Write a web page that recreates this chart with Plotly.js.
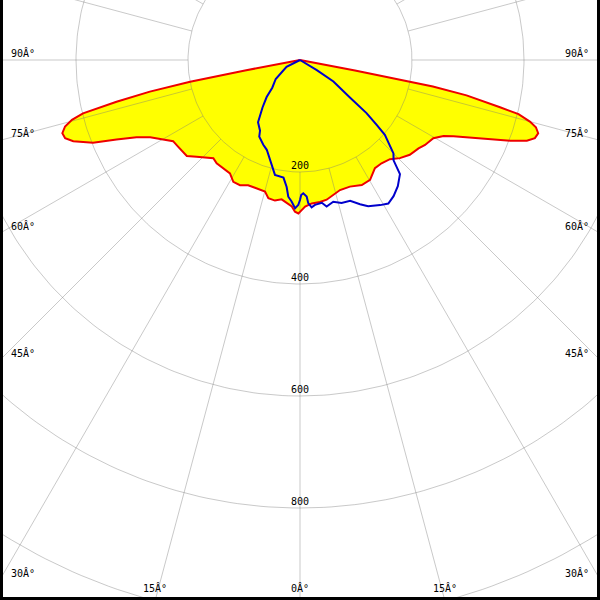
<!DOCTYPE html>
<html>
<head>
<meta charset="utf-8">
<script src="https://cdn.plot.ly/plotly-3.0.1.min.js"></script>
<style>
html,body{margin:0;padding:0;background:#fff;overflow:hidden;}
#chart{width:600px;height:600px;}
</style>
</head>
<body>
<div id="chart"></div>
<script>
// Red plane (filled yellow): angle (deg, 0 = straight down, negative = left) and intensity
const redAngle = [-90, -79.2, -78.8, -78.1, -77.2, -76.2, -75.3, -74.2, -72.9, -71.6,
  -70.3, -68.2, -66.6, -64.7, -62.7, -59.9, -57.4, -54.5, -51.8, -49.7,
  -46.9, -44.8, -41.4, -38.9, -35.3, -31.7, -28.7, -25.6, -22.5, -18.6,
  -14.9, -12.9, -10.1, -7.5, -4.7, -3.2, -1.9, -0.6, 1.3, 2.0,
  4.7, 8.0, 10.8, 13.9, 17.1, 21.5, 26.3, 30.3, 34.7, 38.3,
  42.2, 45.5, 49.2, 53.3, 55.8, 59.6, 62.1, 63.6, 65.1, 67.0,
  69.0, 70.4, 71.6, 72.9, 74.1, 75.0, 76.1, 76.7, 78.0, 78.7,
  79.0, 79.2, 90];
const redValue = [0, 100, 200, 274, 336, 399, 421, 436, 444, 442,
  430, 398, 357, 323, 301, 282, 269, 267, 265, 265,
  253, 245, 234, 237, 237, 238, 248, 248, 242, 242,
  243, 253, 255, 251, 257, 262, 271, 274, 265, 262,
  257, 256, 254, 248, 243, 243, 249, 248, 235, 235,
  239, 250, 259, 264, 270, 276, 290, 306, 328, 362,
  402, 430, 442, 445, 438, 425, 402, 367, 304, 242,
  180, 100, 0];

// Blue plane
const blueAngle = [-90, -63, -52, -45, -42, -38.3, -34, -29.5, -28, -23.4,
  -20.3, -18.4, -15.2, -12.3, -8.0, -6.0, -4.9, -3.4, -1.9, -0.7,
  0, 0.5, 1.4, 2.8, 3.3, 4.5, 5.9, 8.7, 10.3, 13.2,
  16.2, 19.6, 22.6, 25.0, 28.9, 31.6, 34.5, 37.8, 41.2, 43.0,
  45.0, 46.7, 48.6, 49.7, 51.4, 53.1, 57.2, 59.0, 90];
const blueValue = [0, 27, 55, 70, 89, 108, 134, 145, 155, 165,
  171, 179, 193, 210, 212, 228, 245, 253, 265, 259,
  250, 241, 238, 244, 256, 264, 260, 258, 266, 260,
  266, 267, 279, 288, 296, 301, 295, 285, 271, 245,
  236, 217, 202, 180, 152, 112, 71, 35, 0];

// Grid
const ringValues = [200, 400, 600, 800, 1000];
const ringLabels = ['200', '400', '600', '800'];
const spokeAngles = [];
for (let a = -165; a <= 180; a += 15) spokeAngles.push(a);
const sideLabelAngles = [90, 75, 60, 45, 30];
const bottomLabelAngles = [15, 0];
const degSuffix = 'Â°';

const RAD = Math.PI / 180;
const toX = (a, r) => r * Math.sin(a * RAD);
const toY = (a, r) => -r * Math.cos(a * RAD);

const PXPU = 0.56;                 // pixels per unit
const X = 300 / PXPU;
const yTop = 60 / PXPU, yBot = -540 / PXPU;

const traces = [];
// yellow fill
traces.push({
  x: redAngle.map((a, i) => toX(a, redValue[i])),
  y: redAngle.map((a, i) => toY(a, redValue[i])),
  mode: 'lines', fill: 'toself', fillcolor: '#ffff00',
  line: {width: 0, color: 'rgba(0,0,0,0)'}, hoverinfo: 'skip', showlegend: false
});
// rings
const gx = [], gy = [];
ringValues.forEach(R => {
  for (let t = 0; t <= 360; t += 1) { gx.push(toX(t, R)); gy.push(toY(t, R)); }
  gx.push(null); gy.push(null);
});
spokeAngles.forEach(a => {
  gx.push(toX(a, 200)); gy.push(toY(a, 200));
  gx.push(toX(a, 1400)); gy.push(toY(a, 1400));
  gx.push(null); gy.push(null);
});
traces.push({x: gx, y: gy, mode: 'lines', line: {color: 'rgba(120,120,120,0.4)', width: 1},
  hoverinfo: 'skip', showlegend: false, connectgaps: false});
// red outline
traces.push({
  x: redAngle.map((a, i) => toX(a, redValue[i])),
  y: redAngle.map((a, i) => toY(a, redValue[i])),
  mode: 'lines', line: {color: '#ee0000', width: 2}, hoverinfo: 'skip', showlegend: false
});
// blue outline
traces.push({
  x: blueAngle.map((a, i) => toX(a, blueValue[i])),
  y: blueAngle.map((a, i) => toY(a, blueValue[i])),
  mode: 'lines', line: {color: '#0000cc', width: 2}, hoverinfo: 'skip', showlegend: false
});

const font = {family: 'DejaVu Sans Mono, monospace', size: 10, color: '#000'};
const annotations = [];
ringLabels.forEach(l => {
  annotations.push({x: 0, y: toY(0, +l), xref: 'x', yref: 'y', text: l, showarrow: false,
    font: font, xanchor: 'center', yanchor: 'middle', yshift: 7});
});
sideLabelAngles.forEach(a => {
  const r = X / Math.sin(a * RAD);
  const y = toY(a, r);
  annotations.push({x: 9 / 600, xref: 'paper', y: y, yref: 'y', text: a + degSuffix,
    showarrow: false, font: font, xanchor: 'left', yanchor: 'middle', yshift: 7});
  annotations.push({x: 591 / 600, xref: 'paper', y: y, yref: 'y', text: a + degSuffix,
    showarrow: false, font: font, xanchor: 'right', yanchor: 'middle', yshift: 7});
});
bottomLabelAngles.forEach(a => {
  const x = -yBot * Math.tan(a * RAD);
  const sides = a === 0 ? [1] : [-1, 1];
  sides.forEach(s => {
    annotations.push({x: s * x, xref: 'x', y: 12 / 600, yref: 'paper', text: a + degSuffix,
      showarrow: false, font: font, xanchor: 'center', yanchor: 'middle'});
  });
});

const shapes = [
  {type: 'rect', xref: 'paper', yref: 'paper', x0: 0, x1: 3 / 600, y0: 0, y1: 1, fillcolor: '#000', line: {width: 0}, layer: 'above'},
  {type: 'rect', xref: 'paper', yref: 'paper', x0: 597 / 600, x1: 1, y0: 0, y1: 1, fillcolor: '#000', line: {width: 0}, layer: 'above'},
  {type: 'rect', xref: 'paper', yref: 'paper', x0: 0, x1: 1, y0: 0, y1: 3 / 600, fillcolor: '#000', line: {width: 0}, layer: 'above'}
];

const layout = {
  width: 600, height: 600,
  margin: {l: 0, r: 0, t: 0, b: 0, pad: 0},
  paper_bgcolor: '#fff', plot_bgcolor: '#fff',
  xaxis: {range: [-X, X], visible: false, fixedrange: true},
  yaxis: {range: [yBot, yTop], visible: false, fixedrange: true},
  showlegend: false,
  annotations: annotations,
  shapes: shapes
};
Plotly.newPlot('chart', traces, layout, {displayModeBar: false, staticPlot: true});
</script>
</body>
</html>
